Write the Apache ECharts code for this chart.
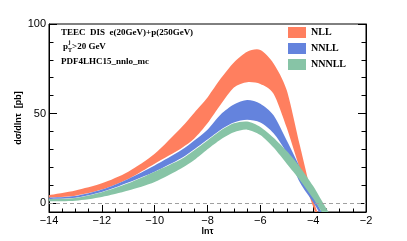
<!DOCTYPE html>
<html><head><meta charset="utf-8">
<script src="https://cdn.jsdelivr.net/npm/echarts@6/dist/echarts.min.js"></script>
<style>html,body{margin:0;padding:0;background:#fff}#c{width:407px;height:241px}</style>
</head><body><div id="c"></div>
<script>
// ---- data ----
const seriesNames = ['NLL', 'NNLL', 'NNNLL'];
const xNLL   = [-14, -13, -12, -11, -10, -9, -8.5, -8, -7.5, -7, -6.5, -6, -5.5, -5, -4.5, -4, -3.6];
const nllLow = [3.0, 4.1, 7.5, 13.5, 22, 30.5, 36, 44.5, 55, 64.5, 67.5, 66.5, 61, 42, 19, -2, -18];
const nllHigh= [4.4, 7.0, 11.0, 17.5, 27.5, 42, 50.5, 59, 69.5, 78.5, 84.5, 85.5, 78, 63, 32, 2, -14];

const xNNLL   = [-14, -13, -12, -11, -10, -9, -8.5, -8, -7.5, -7, -6.5, -6, -5.5, -5, -4.5, -4, -3.5];
const nnllLow = [2.3, 3.0, 6.2, 11.5, 17.5, 25, 30, 35.5, 41, 45, 46.5, 45, 39, 28, 11.5, 0.5, -12];
const nnllHigh= [3.0, 3.9, 7.5, 13.5, 21, 29.5, 35, 41, 49.5, 55, 57.5, 55.5, 49, 35, 20, 4, -10];

const xN3   = [-14, -13, -12, -11, -10, -9, -8.5, -8, -7.5, -7, -6.5, -6, -5.5, -5, -4.5, -4, -3.5, -3];
const n3Low = [1.0, 1.3, 3.4, 7.0, 11.8, 19.3, 24, 30, 35.5, 39.5, 41, 38, 31, 22, 12.8, 2.5, -9, -20];
const n3High= [2.2, 2.8, 6.0, 11.0, 17.5, 24.5, 29.5, 35, 40.5, 44.5, 45.5, 42.5, 36.5, 29, 20.2, 9.5, -3, -14];

const yMajorTicks = [0, 50, 100];
const yMinorTicks = [10, 20, 30, 40, 60, 70, 80, 90];

// ---- styling ----
const colors = ['#ff7f5f', '#6483dd', '#87c4a6'];
const SANS = 'Liberation Sans, Arial, sans-serif';
const SERIF = 'Liberation Serif, Times New Roman, serif';

// Catmull-Rom curve through pixel points -> SVG path commands
function curve(pts, start) {
  let d = start ? ('M' + pts[0][0] + ' ' + pts[0][1]) : ('L' + pts[0][0] + ' ' + pts[0][1]);
  const t = 0.8;
  for (let i = 0; i < pts.length - 1; i++) {
    const p0 = pts[i - 1] || pts[i], p1 = pts[i], p2 = pts[i + 1], p3 = pts[i + 2] || pts[i + 1];
    const c1 = [p1[0] + (p2[0] - p0[0]) * t / 6, p1[1] + (p2[1] - p0[1]) * t / 6];
    const c2 = [p2[0] - (p3[0] - p1[0]) * t / 6, p2[1] - (p3[1] - p1[1]) * t / 6];
    d += ' C' + c1[0] + ' ' + c1[1] + ' ' + c2[0] + ' ' + c2[1] + ' ' + p2[0] + ' ' + p2[1];
  }
  return d;
}

function bandSeries(name, xs, lo, hi, color, idx) {
  return {
    name: name, type: 'custom', clip: true, silent: true, z: 2 + idx,
    itemStyle: { color: color },
    encode: { x: 0, y: [1, 2] },
    data: xs.map((x, i) => [x, lo[i], hi[i]]),
    renderItem: function (params, api) {
      if (params.dataIndex !== 0) return null;
      const up = xs.map((x, i) => api.coord([x, hi[i]]));
      const dn = xs.map((x, i) => api.coord([x, lo[i]])).reverse();
      const d = curve(up, true) + ' ' + curve(dn, false) + ' Z';
      const cs = params.coordSys;
      return {
        type: 'path',
        shape: { pathData: d },
        style: { fill: color, stroke: null },
        clipPath: { type: 'rect', shape: { x: cs.x, y: cs.y, width: cs.width, height: cs.height } }
      };
    }
  };
}

const series = [
  bandSeries(seriesNames[0], xNLL, nllLow, nllHigh, colors[0], 0),
  bandSeries(seriesNames[1], xNNLL, nnllLow, nnllHigh, colors[1], 1),
  bandSeries(seriesNames[2], xN3, n3Low, n3High, colors[2], 2)
];

series.push({
  type: 'line', data: [], silent: true, z: 1,
  markLine: {
    silent: true, symbol: 'none', label: { show: false },
    lineStyle: { color: '#a0a0a0', type: [4, 3], width: 1 },
    data: [{ yAxis: 0 }]
  }
});

function yAx(pos, ticks, len, showLine, showLabel, extra) {
  return Object.assign({
    type: 'value', position: pos, min: -5, max: 100,
    axisLine: { show: showLine, lineStyle: { color: '#000', width: 1 } },
    axisTick: { show: true, inside: true, length: len, customValues: ticks, lineStyle: { color: '#000' } },
    axisLabel: { show: showLabel, customValues: ticks, margin: 3, fontSize: 11, color: '#000', fontFamily: SANS },
    splitLine: { show: false }
  }, extra || {});
}

const chart = echarts.init(document.getElementById('c'), null, { renderer: 'canvas' });
chart.setOption({
  animation: false,
  backgroundColor: '#fff',
  grid: { left: 49, right: 41, top: 24, bottom: 29, show: true, borderColor: '#000', borderWidth: 1, backgroundColor: 'transparent' },
  legend: {
    data: seriesNames, orient: 'vertical', left: 288, top: 27, padding: 0,
    itemWidth: 18, itemHeight: 11, itemGap: 5, icon: 'rect', selectedMode: false,
    textStyle: { fontFamily: SERIF, fontWeight: 'bold', fontSize: 10, color: '#000' }
  },
  xAxis: {
    type: 'value', min: -14, max: -2, interval: 2,
    axisLine: { show: true, onZero: false, lineStyle: { color: '#000', width: 1 } },
    axisTick: { inside: true, length: 7, lineStyle: { color: '#000' } },
    minorTick: { show: true, splitNumber: 4, length: 3.5, lineStyle: { color: '#000' } },
    axisLabel: { margin: 3, fontSize: 11, color: '#000', fontFamily: SANS,
      formatter: v => String(v).replace('-', '\u2212') },
    splitLine: { show: false },
    name: 'ln\u03c4', nameLocation: 'middle', nameGap: 15, nameMoveOverlap: false,
    nameTextStyle: { fontFamily: SANS, fontWeight: 'bold', fontSize: 9, color: '#000' }
  },
  yAxis: [
    yAx('left', yMajorTicks, 8, true, true, {
      name: 'd\u03c3/dln\u03c4  [pb]', nameLocation: 'middle', nameGap: 26, nameMoveOverlap: false,
      nameTextStyle: { fontFamily: SANS, fontWeight: 'bold', fontSize: 9, color: '#000' }
    }),
    yAx('left', yMinorTicks, 4.5, false, false),
    yAx('right', yMajorTicks, 8, true, false),
    yAx('right', yMinorTicks, 4.5, false, false)
  ],
  graphic: [
    { type: 'text', left: 61, top: 28, style: { text: 'TEEC  DIS  e(20GeV)+p(250GeV)', font: 'bold 9px ' + SERIF, fill: '#000' } },
    { type: 'text', left: 63, top: 42, style: { text: 'p', font: 'bold 9px ' + SERIF, fill: '#000' } },
    { type: 'text', left: 68.5, top: 39, style: { text: 'j', font: 'bold 6px ' + SERIF, fill: '#000' } },
    { type: 'text', left: 68, top: 47, style: { text: 'T', font: 'bold 6px ' + SERIF, fill: '#000' } },
    { type: 'text', left: 72, top: 42, style: { text: '>20 GeV', font: 'bold 9px ' + SERIF, fill: '#000' } },
    { type: 'text', left: 61, top: 57, style: { text: 'PDF4LHC15_nnlo_mc', font: 'bold 9px ' + SERIF, fill: '#000' } }
  ],
  series: series
});
</script></body></html>
